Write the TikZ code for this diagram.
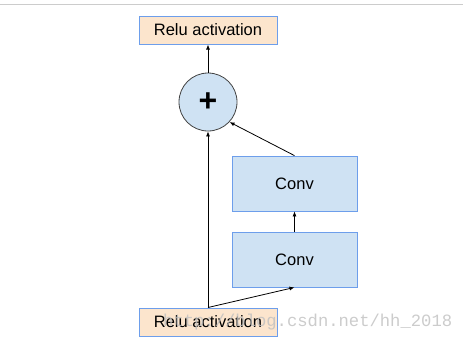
\documentclass[tikz,border=0pt]{standalone}
\usepackage{fontspec}
\setmainfont{Liberation Sans}
\newfontfamily\wmfont{Liberation Mono}
\usetikzlibrary{arrows.meta}
\definecolor{reluFill}{HTML}{FCE5CD}
\definecolor{boxBorder}{HTML}{6D9EEB}
\definecolor{convFill}{HTML}{CFE2F3}
\definecolor{circBorder}{HTML}{434343}
\tikzset{
  relubox/.style={draw=boxBorder, fill=reluFill, line width=1pt, minimum width=138pt, minimum height=28pt, inner sep=0pt, font=\fontsize{16.5}{18}\selectfont},
  convbox/.style={draw=boxBorder, fill=convFill, line width=0.8pt, minimum width=125pt, minimum height=55pt, inner sep=0pt, font=\fontsize{16.5}{18}\selectfont},
  plusnode/.style={circle, draw=circBorder, fill=convFill, line width=0.8pt, minimum size=58pt, inner sep=0pt, font=\bfseries\fontsize{32}{34}\selectfont},
  arr/.style={-{Latex[length=5pt,width=4pt]}, line width=0.8pt, black}
}
\begin{document}
\begin{tikzpicture}[x=1pt,y=-1pt]
\useasboundingbox (0,0) rectangle (463,340);
\draw[line width=1.5pt, black!20] (0,4.5) -- (463,4.5);
\node[relubox] (reluT) at (208,30) {Relu activation};
\node[plusnode] (plus) at (208,102) {+};
\node[convbox] (conv1) at (294.5,183.5) {Conv};
\node[convbox] (conv2) at (294.5,259.5) {Conv};
\node[relubox] (reluB) at (208,322) {Relu activation};
\draw[arr] (plus.north) -- (reluT.south);
\draw[arr] (reluB.north) -- (plus.south);
\draw[arr] (reluB.north) -- (conv2.south);
\draw[arr] (conv2.north) -- (conv1.south);
\draw[arr] (conv1.north) -- (plus.-43);
\node[anchor=base west, inner sep=0pt, text=black!25, opacity=0.8, font=\wmfont\fontsize{17.2}{18}\selectfont] (wm) at (163,326) {http://blog.csdn.net/hh\_2018};
\end{tikzpicture}
\end{document}
